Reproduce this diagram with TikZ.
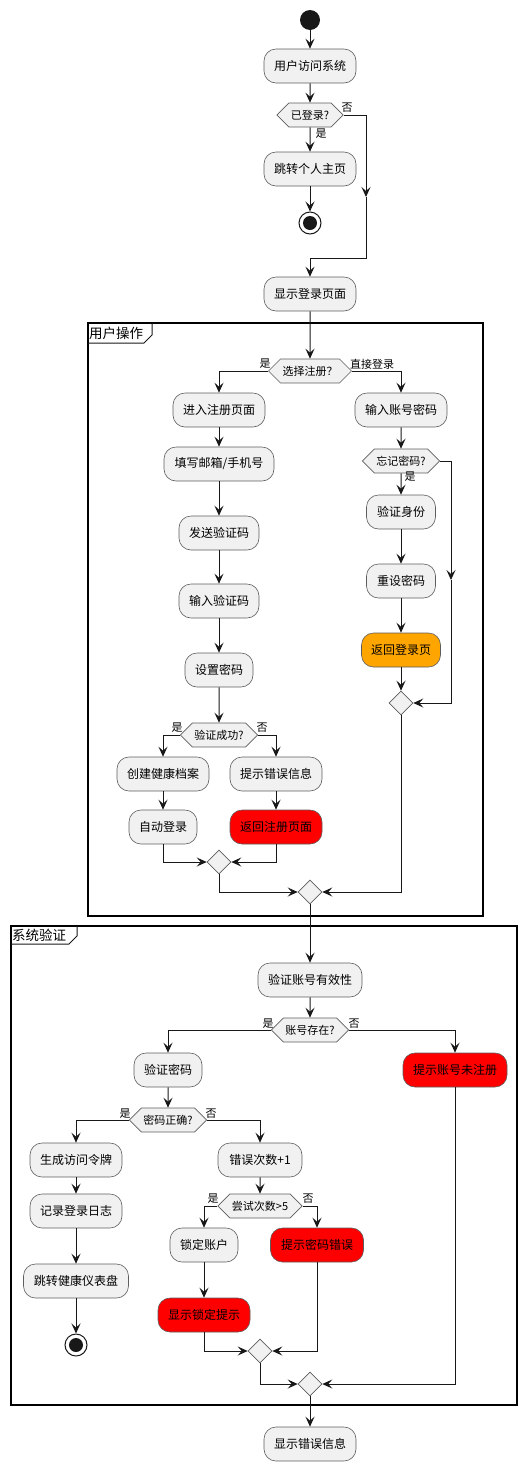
\documentclass[tikz,border=0pt]{standalone}
\usepackage{fontspec}
\setmainfont{Noto Sans CJK SC}
\usetikzlibrary{arrows.meta,shapes.geometric,shapes.symbols}
\definecolor{boxfill}{HTML}{F1F1F1}
\definecolor{boxline}{HTML}{181818}
\definecolor{lred}{HTML}{FF0000}
\definecolor{lorange}{HTML}{FFA500}
\tikzset{
  x=1pt,y=-1pt,
  act/.style={draw=boxline!70,fill=boxfill,rounded corners=12pt,minimum height=34pt,inner xsep=4pt,line width=0.6pt,font=\fontsize{12}{14}\selectfont},
  redact/.style={act,fill=lred},
  orgact/.style={act,fill=lorange},
  dec/.style={shape=signal,signal to=east and west,signal pointer angle=90,draw=boxline!70,fill=boxfill,minimum height=24pt,inner xsep=2pt,inner ysep=0pt,line width=0.6pt,font=\fontsize{11}{13}\selectfont},
  merge/.style={shape=diamond,draw=boxline!70,fill=boxfill,minimum width=24pt,minimum height=24pt,inner sep=0pt,line width=0.6pt},
  lbl/.style={font=\fontsize{11}{13}\selectfont,inner sep=0pt},
  line/.style={draw=boxline,line width=1pt},
  flow/.style={line,-{Stealth[length=10pt,width=9pt,inset=4pt]}},
  grp/.style={draw=black,line width=1.5pt},
  startnode/.style={circle,fill=boxline,minimum size=20pt,inner sep=0pt},
  endnode/.style={circle,draw=boxline,fill=white,line width=1pt,minimum size=22pt,inner sep=0pt},
  enddot/.style={circle,fill=boxline,minimum size=14pt,inner sep=0pt}
}
\begin{document}
\begin{tikzpicture}
\useasboundingbox (0,0) rectangle (527,1470);
% groups
\draw[grp] (88,323) rectangle (483,916);
\draw[line,line width=1pt] (88,343) -- (144,343) -- (152,335) -- (152,323);
\node[anchor=west,font=\fontsize{13.5}{15}\selectfont,inner sep=0pt] (g1) at (89,333) {用户操作};
\draw[grp] (11,926) rectangle (517,1405);
\draw[line,line width=1pt] (11,944) -- (69,944) -- (77,936) -- (77,926);
\node[anchor=west,font=\fontsize{13.5}{15}\selectfont,inner sep=0pt] (g2) at (12,935) {系统验证};

% top part
\node[startnode] (s) at (310,20) {};
\node[act,minimum width=92pt] (n1) at (310,66) {用户访问系统};
\node[dec,minimum width=63pt] (d1) at (310,115) {已登录?};
\node[act,minimum width=92pt] (n2) at (310,169) {跳转个人主页};
\node[endnode] (e1) at (310,223) {};
\node[enddot] at (e1) {};
\node[act,minimum width=92pt] (n3) at (310,294) {显示登录页面};
\coordinate (c1) at (366,197);
\coordinate (c1b) at (366,258);
\node[lbl] (l1) at (347,108) {否};
\node[lbl] (l2) at (321,134) {是};

\draw[flow] (s) -- (n1);
\draw[flow] (n1) -- (d1);
\draw[flow] (d1) -- (n2);
\draw[flow] (n2) -- (e1);
\draw[flow] (d1.east) -| (c1);
\draw[flow] (c1) -- (c1b) -| (n3.north);

% group 1
\node[dec,minimum width=79pt] (d2) at (310,371) {选择注册？};
\node[lbl] (l3) at (265,364) {是};
\node[lbl] (l4) at (372,364) {直接登录};
\node[act,minimum width=92pt] (n4) at (219,410) {进入注册页面};
\node[act,minimum width=110pt] (n5) at (219,464) {填写邮箱/手机号};
\node[act,minimum width=80pt] (n6) at (219,533) {发送验证码};
\node[act,minimum width=80pt] (n7) at (219,601) {输入验证码};
\node[act,minimum width=68pt] (n8) at (219,670) {设置密码};
\node[dec,minimum width=72pt] (d3) at (219,735) {验证成功?};
\node[lbl] (l5) at (177,728) {是};
\node[lbl] (l6) at (262,728) {否};
\node[act,minimum width=92pt] (n9) at (163,774) {创建健康档案};
\node[act,minimum width=68pt] (n10) at (163,827) {自动登录};
\node[act,minimum width=92pt] (n11) at (276,774) {提示错误信息};
\node[redact,minimum width=92pt] (n12) at (276,827) {返回注册页面};
\node[merge] (m1) at (219,862) {};

\node[act,minimum width=92pt] (n13) at (401,410) {输入账号密码};
\node[dec,minimum width=73pt] (d4) at (401,461) {忘记密码?};
\node[lbl] (l7) at (410,477) {是};
\node[act,minimum width=69pt] (n14) at (401,512) {验证身份};
\node[act,minimum width=69pt] (n15) at (401,581) {重设密码};
\node[orgact,minimum width=79pt] (n16) at (401,650) {返回登录页};
\node[merge] (m2) at (401,703) {};
\coordinate (c2) at (451,580);
\node[merge] (m3) at (310,892) {};

\draw[flow] (n3) -- (d2);
\draw[flow] (d2.west) -| (n4.north);
\draw[flow] (n4) -- (n5);
\draw[flow] (n5) -- (n6);
\draw[flow] (n6) -- (n7);
\draw[flow] (n7) -- (n8);
\draw[flow] (n8) -- (d3);
\draw[flow] (d3.west) -| (n9.north);
\draw[flow] (d3.east) -| (n11.north);
\draw[flow] (n9) -- (n10);
\draw[flow] (n11) -- (n12);
\draw[flow] (n10.south) |- (m1.west);
\draw[flow] (n12.south) |- (m1.east);
\draw[flow] (m1.south) |- (m3.west);
\draw[flow] (d2.east) -| (n13.north);
\draw[flow] (n13) -- (d4);
\draw[flow] (d4) -- (n14);
\draw[flow] (n14) -- (n15);
\draw[flow] (n15) -- (n16);
\draw[flow] (n16) -- (m2);
\draw[flow] (d4.east) -| (c2);
\draw[flow] (c2) |- (m2.east);
\draw[flow] (m2.south) |- (m3.east);

% group 2
\node[act,minimum width=104pt] (n17) at (310,980) {验证账号有效性};
\node[dec,minimum width=71pt] (d5) at (310,1030) {账号存在?};
\node[lbl] (l8) at (268,1024) {是};
\node[lbl] (l9) at (354,1024) {否};
\node[act,minimum width=68pt] (n18) at (168,1070) {验证密码};
\node[redact,minimum width=104pt] (n19) at (455,1070) {提示账号未注册};
\node[dec,minimum width=74pt] (d6) at (168,1120) {密码正确?};
\node[lbl] (l10) at (125,1114) {是};
\node[lbl] (l11) at (211,1114) {否};
\node[act,minimum width=92pt] (n20) at (76,1160) {生成访问令牌};
\node[act,minimum width=84pt] (n21) at (260,1160) {错误次数+1};
\node[act,minimum width=92pt] (n22) at (76,1211) {记录登录日志};
\node[act,minimum width=105pt] (n23) at (76,1281) {跳转健康仪表盘};
\node[endnode] (e2) at (76,1345) {};
\node[enddot] at (e2) {};
\node[dec,minimum width=84pt] (d7) at (260,1206) {尝试次数>5};
\node[lbl] (l12) at (213,1199) {是};
\node[lbl] (l13) at (308,1199) {否};
\node[act,minimum width=68pt] (n24) at (204,1245) {锁定账户};
\node[redact,minimum width=93pt] (n25) at (317,1245) {提示密码错误};
\node[redact,minimum width=92pt] (n26) at (204,1315) {显示锁定提示};
\node[merge] (m4) at (260,1351) {};
\node[merge] (m5) at (310,1384) {};
\node[act,minimum width=92pt] (n27) at (310,1444) {显示错误信息};

\draw[flow] (m3.south) -- (n17);
\draw[flow] (n17) -- (d5);
\draw[flow] (d5.west) -| (n18.north);
\draw[flow] (d5.east) -| (n19.north);
\draw[flow] (n18) -- (d6);
\draw[flow] (d6.west) -| (n20.north);
\draw[flow] (d6.east) -| (n21.north);
\draw[flow] (n20) -- (n22);
\draw[flow] (n22) -- (n23);
\draw[flow] (n23) -- (e2);
\draw[flow] (n21) -- (d7);
\draw[flow] (d7.west) -| (n24.north);
\draw[flow] (d7.east) -| (n25.north);
\draw[flow] (n24) -- (n26);
\draw[flow] (n26.south) |- (m4.west);
\draw[flow] (n25.south) |- (m4.east);
\draw[flow] (m4.south) |- (m5.west);
\draw[flow] (n19.south) |- (m5.east);
\draw[flow] (m5.south) -- (n27);
\end{tikzpicture}
\end{document}
